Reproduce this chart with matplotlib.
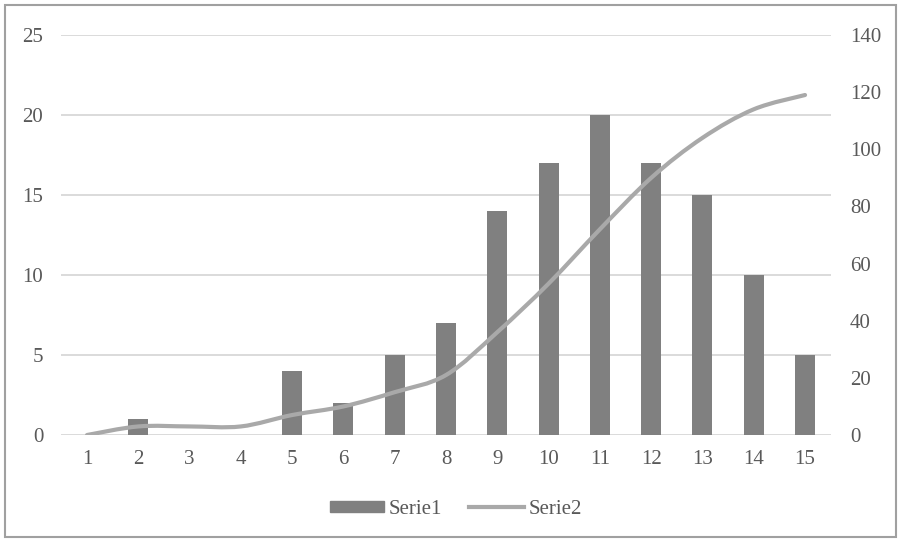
#!/usr/bin/env python3
"""
Recreate the Serie1 (bars) / Serie2 (smoothed line) combo chart.
"""

import numpy as np
import matplotlib
matplotlib.use('Agg')
import matplotlib.pyplot as plt
from matplotlib.path import Path
from matplotlib.patches import PathPatch, Rectangle
from matplotlib.lines import Line2D

# data
categories = list(range(1, 16))
serie1 = [0, 1, 0, 0, 4, 2, 5, 7, 14, 17, 20, 17, 15, 10, 5]
serie2 = [0, 3, 3, 3, 7, 10, 15, 21, 36, 53, 72, 90, 104, 114, 119]
left_ticks = [0, 5, 10, 15, 20, 25]
right_ticks = [0, 20, 40, 60, 80, 100, 120, 140]

text_color = '#595959'
bar_color = '#808080'
line_color = '#a9a9a9'
grid_color = '#d4d4d4'

plt.rcParams['font.family'] = ['Liberation Serif', 'DejaVu Serif']
plt.rcParams['font.size'] = 15

fig = plt.figure(figsize=(8.99, 5.42), dpi=100)
ax = fig.add_axes([0.0683, 0.1974, 0.8557, 0.738])
ax2 = ax.twinx()

# bars on the left axis
ax.bar(categories, serie1, width=0.39, color=bar_color, zorder=2)
ax.set_xlim(0.5, 15.5)
ax.set_ylim(0, 25)
ax.set_yticks(left_ticks)
ax.set_xticks(categories)
ax.grid(axis='y', color=grid_color, linewidth=1.2, zorder=0)
ax.set_axisbelow(True)

# smoothed line on the right axis (Catmull-Rom turned into Bezier curves)
xs = np.array(categories, dtype=float)
ys = np.array(serie2, dtype=float)
verts = [(xs[0], ys[0])]
codes = [Path.MOVETO]
for i in range(len(xs) - 1):
    p0 = (xs[max(i - 1, 0)], ys[max(i - 1, 0)])
    p1 = (xs[i], ys[i])
    p2 = (xs[i + 1], ys[i + 1])
    p3 = (xs[min(i + 2, len(xs) - 1)], ys[min(i + 2, len(xs) - 1)])
    c1 = (p1[0] + (p2[0] - p0[0]) / 6, p1[1] + (p2[1] - p0[1]) / 6)
    c2 = (p2[0] - (p3[0] - p1[0]) / 6, p2[1] - (p3[1] - p1[1]) / 6)
    verts += [c1, c2, p2]
    codes += [Path.CURVE4] * 3
ax2.add_patch(PathPatch(Path(verts, codes), facecolor='none', edgecolor=line_color,
                        linewidth=3, capstyle='round', zorder=3))
ax2.set_ylim(0, 140)
ax2.set_yticks(right_ticks)

for a in (ax, ax2):
    for s in a.spines.values():
        s.set_visible(False)
    a.tick_params(length=0, colors=text_color)
ax.tick_params(axis='y', pad=13)
ax.tick_params(axis='x', pad=11)
ax2.tick_params(axis='y', pad=14)

# legend at the bottom
handles = [Rectangle((0, 0), 1, 1, color=bar_color),
           Line2D([0], [0], color=line_color, linewidth=3)]
fig.legend(handles, ['Serie1', 'Serie2'], loc='center', bbox_to_anchor=(0.507, 0.06),
           ncol=2, frameon=False, labelcolor=text_color, handlelength=2.6,
           handleheight=0.45, handletextpad=0.25, columnspacing=1.3)

# outer chart frame
fig.patches.append(Rectangle((0.006, 0.009), 0.991, 0.982, transform=fig.transFigure,
                             fill=False, edgecolor='#a0a0a0', linewidth=1.5))

plt.savefig('out.png', dpi=100)
